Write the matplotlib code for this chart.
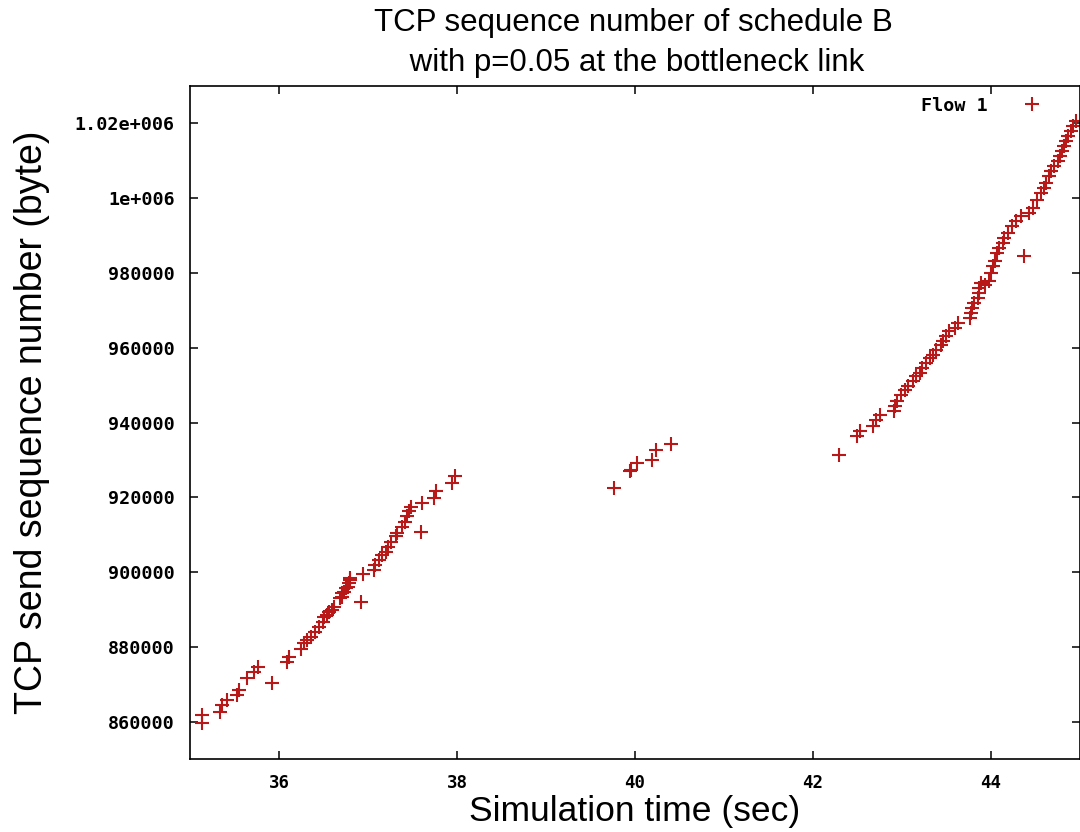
import matplotlib
matplotlib.use("Agg")
import matplotlib.pyplot as plt

# Flow 1 samples: simulation time (sec) and TCP send sequence number (byte)
time_sec = [
    35.13, 35.14, 35.335, 35.36, 35.42, 35.53, 35.55, 35.64, 35.72, 35.76,
    35.92, 36.09, 36.11, 36.25, 36.28, 36.32, 36.36, 36.41, 36.45, 36.49,
    36.50, 36.54, 36.56, 36.60, 36.62, 36.69, 36.71, 36.71, 36.73, 36.75,
    36.77, 36.785, 36.80, 36.80, 36.92, 36.94, 37.07, 37.08, 37.12, 37.16,
    37.20, 37.23, 37.26, 37.31, 37.33, 37.38, 37.42, 37.44, 37.46, 37.48,
    37.59, 37.61, 37.74, 37.76, 37.94, 37.98,
    39.76, 39.94, 39.96, 40.02, 40.19, 40.24, 40.41,
    42.29, 42.49, 42.53, 42.67, 42.71, 42.75, 42.91, 42.92, 42.945, 42.99,
    43.03, 43.07, 43.12, 43.16, 43.20, 43.23, 43.27, 43.31, 43.35, 43.38,
    43.44, 43.46, 43.49, 43.53, 43.59, 43.63, 43.76, 43.78, 43.79, 43.81,
    43.85, 43.87, 43.87, 43.89, 43.93, 43.98, 44.00, 44.02, 44.04, 44.07,
    44.09, 44.13, 44.15, 44.19, 44.24, 44.28, 44.34, 44.37, 44.43, 44.47,
    44.52, 44.56, 44.60, 44.62, 44.65, 44.67, 44.71, 44.75, 44.77, 44.80,
    44.82, 44.84, 44.86, 44.90, 44.92, 44.96,
]
seq_bytes = [
    859570, 861790, 862680, 864470, 865810, 867140, 868480, 871610, 873380, 874720,
    870280, 876060, 877390, 879370, 880980, 881860, 882750, 884080, 885420, 886760,
    888100, 888550, 889430, 889890, 890770, 893020, 893450, 894360, 894790, 895700,
    896130, 897030, 897920, 898370, 892110, 899500, 900590, 901930, 903270, 904610,
    905490, 906830, 908170, 909510, 910420, 912180, 913520, 914860, 916200, 917530,
    910840, 918440, 919780, 921550, 923800, 925560,
    922460, 926900, 927350, 929150, 930030, 932710, 934310,
    931370, 936270, 937600, 938940, 940730, 942070, 942950, 944290, 945630, 947420,
    948760, 949640, 950980, 952320, 953230, 954570, 955910, 957250, 958130, 959470,
    960810, 961690, 963030, 964370, 965270, 966610, 967950, 969290, 970630, 971960,
    973300, 974640, 975980, 977320, 976850, 977740, 979990, 981760, 983100, 985340,
    986680, 988020, 989360, 990700, 992460, 993800, 995140, 984430, 996050, 997380,
    999610, 1001400, 1002740, 1004080, 1005840, 1007180, 1008520, 1009860, 1011200, 1012540,
    1013880, 1015220, 1016550, 1017890, 1019230, 1020570,
]

x_ticks = [36, 38, 40, 42, 44]
y_ticks = [860000, 880000, 900000, 920000, 940000, 960000, 980000, 1000000, 1020000]
y_tick_labels = ["860000", "880000", "900000", "920000", "940000", "960000",
                 "980000", "1e+006", "1.02e+006"]
series_label = "Flow 1"
title = "TCP sequence number of schedule B\n with p=0.05 at the bottleneck link"
x_label = "Simulation time (sec)"
y_label = "TCP send sequence number (byte)"

fig = plt.figure(figsize=(10.8, 8.32), dpi=100)
ax = fig.add_axes([190 / 1080, 1 - 759 / 832, 890 / 1080, (759 - 86) / 832])

ax.plot(time_sec, seq_bytes, linestyle="none", marker="+", markersize=10,
        markeredgewidth=1.5, color="#b81818", label=series_label)

ax.set_xlim(35, 45)
ax.set_ylim(850000, 1030000)
ax.set_xticks(x_ticks)
ax.set_xticklabels([str(t) for t in x_ticks])
ax.set_yticks(y_ticks)
ax.set_yticklabels(y_tick_labels)

mono_family = "DejaVu Sans Mono"
mono_size = 13.2
for lab in ax.get_yticklabels():
    lab.set_fontfamily(mono_family)
    lab.set_fontweight("bold")
    lab.set_fontsize(mono_size)
for lab in ax.get_xticklabels():
    lab.set_fontfamily(mono_family)
    lab.set_fontweight("bold")
    lab.set_fontsize(12.5)

ax.tick_params(direction="in", length=6, width=1.1, top=True, right=True,
               colors="black")
ax.tick_params(axis="x", pad=11)
ax.tick_params(axis="y", pad=11)
for s in ax.spines.values():
    s.set_linewidth(1.2)
    s.set_color("black")

fig.text(633 / 1080, 1 - 43 / 832, title, ha="center", va="center",
         fontsize=22.5, family="Liberation Sans", linespacing=1.45)
fig.text(635 / 1080, 1 - 811 / 832, x_label, ha="center", va="center",
         fontsize=25.5, family="Liberation Sans")
fig.text(32 / 1080, 1 - 422 / 832, y_label, ha="center", va="center",
         rotation=90, fontsize=27, family="Liberation Sans")

leg = ax.legend(loc="upper right", bbox_to_anchor=(0.970, 0.995), borderaxespad=0,
                frameon=False, markerfirst=False, handlelength=1.5,
                handletextpad=1.65,
                prop={"family": mono_family, "weight": "bold", "size": mono_size})

fig.savefig("out.png", dpi=100)
